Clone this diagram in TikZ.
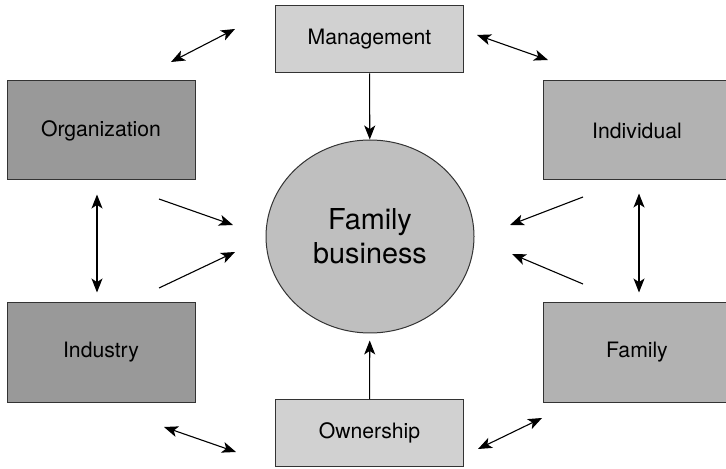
\documentclass[tikz,border=0pt]{standalone}
\usepackage{fontspec}
\setmainfont{TeX Gyre Heros}
\usetikzlibrary{shapes.geometric,arrows.meta}
\begin{document}
\begin{tikzpicture}[x=0.5pt,y=-0.5pt,>={Stealth[length=7pt,width=5.5pt,inset=1.8pt]},
	box/.style={rectangle,draw=black!80,line width=0.5pt,minimum width=94pt,inner sep=0,
	font=\fontsize{10.6}{12}\selectfont},
	small/.style={box,minimum height=33.5pt,fill=black!18},
	big/.style={box,minimum height=49.5pt},
	arr/.style={line width=0.55pt,->},
	both/.style={line width=0.55pt,<->}]
\useasboundingbox (0,0) rectangle (726,469);
\node[ellipse,draw=black!80,line width=0.5pt,fill=black!25,minimum width=104pt,minimum height=96.5pt,
	align=center,font=\fontsize{14.4}{17}\selectfont] (fb) at (370,236.5) {Family\\business};
\node[small] (mgmt) at (369.5,39.5) {Management};
\node[small] (own) at (369.5,433) {Ownership};
\node[big,fill=black!40] (org) at (101,130.5) {Organization};
\node[big,fill=black!40] (ind) at (101,352.5) {Industry};
\begin{scope}
\clip (0,0) rectangle (726,469);
\node[big,fill=black!30] (indiv) at (637,130.5) {Individual};
\node[big,fill=black!30] (fam) at (637,352.5) {Family};
\end{scope}
% corners
\coordinate (tl1) at (171,62); \coordinate (tl2) at (235,29);
\coordinate (tr1) at (477,35); \coordinate (tr2) at (548,60);
\coordinate (bl1) at (164,427); \coordinate (bl2) at (236,452);
\coordinate (br1) at (478,449); \coordinate (br2) at (542,418);
% towards the centre
\coordinate (l1) at (159,199); \coordinate (l1e) at (233,225);
\coordinate (l2) at (159,288); \coordinate (l2e) at (235,252);
\coordinate (r1) at (583,197); \coordinate (r1e) at (510,225);
\coordinate (r2) at (583,284); \coordinate (r2e) at (512,254);
\draw[arr] (mgmt) -- (fb);
\draw[arr,shorten >=3.5pt] (own) -- (fb);
\draw[both] ([xshift=-2pt,yshift=-7pt]org.south) -- ([xshift=-2pt,yshift=5pt]ind.north);
\draw[both] ([xshift=1pt,yshift=-6.5pt]indiv.south) -- ([xshift=1pt,yshift=5pt]fam.north);
\foreach \a/\b in {tl1/tl2,tr1/tr2,bl1/bl2,br1/br2}
	\draw[both] (\a) -- (\b);
\foreach \a/\b in {l1/l1e,l2/l2e,r1/r1e,r2/r2e}
	\draw[arr] (\a) -- (\b);
\end{tikzpicture}
\end{document}
